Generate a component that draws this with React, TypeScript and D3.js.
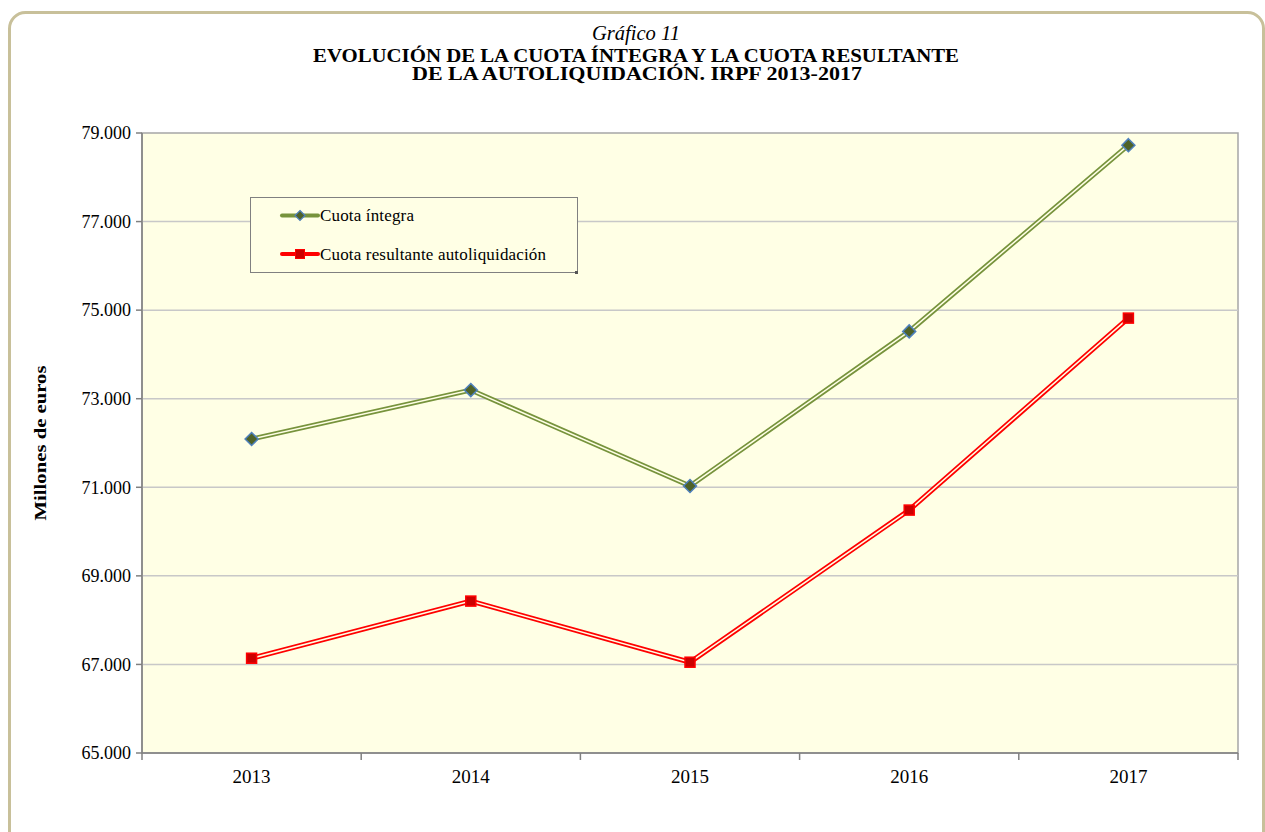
import React from "react";
import * as d3 from "d3";

const years = ["2013", "2014", "2015", "2016", "2017"];
const cuotaIntegra = [72090, 73195, 71030, 74520, 78725];
const cuotaResultante = [67140, 68430, 67050, 70485, 74820];
const yTicks = [65000, 67000, 69000, 71000, 73000, 75000, 77000, 79000];

const W = 1265;
const H = 832;
const M = { left: 142, top: 133, right: 1238, bottom: 753 };
const bg = "#FFFFE5";
const font = "'Liberation Serif', 'Times New Roman', serif";

export default function App() {
  const x = d3.scaleBand<string>().domain(years).range([M.left, M.right]);
  const y = d3.scaleLinear().domain([65000, 79000]).range([M.bottom, M.top]);
  const cx = (d: string) => (x(d) as number) + x.bandwidth() / 2;
  const line = d3
    .line<number>()
    .x((_, i) => cx(years[i]))
    .y((v) => y(v));
  const fmt = (v: number) => d3.format(",")(v).replace(/,/g, ".");
  const boundaries = [...years.map((d) => x(d) as number), M.right];

  const diamond = (px: number, py: number, r: number) =>
    `M${px},${py - r}L${px + r},${py}L${px},${py + r}L${px - r},${py}Z`;

  return (
    <svg
      width={W}
      height={H}
      style={{ position: "absolute", left: 0, top: 0, display: "block" }}
      fontFamily={font}
    >
      <rect x={0} y={0} width={W} height={H} fill="#fff" />
      <rect
        x={9.5}
        y={12.5}
        width={1254}
        height={840}
        rx={16}
        ry={16}
        fill="#fff"
        stroke="#C8C09A"
        strokeWidth={3}
      />
      {/* title */}
      <text
        x={636}
        y={40}
        textAnchor="middle"
        fontStyle="italic"
        fontSize={20}
        textLength={88}
        lengthAdjust="spacingAndGlyphs"
      >
        Gráfico 11
      </text>
      <text
        x={636}
        y={61.5}
        textAnchor="middle"
        fontWeight="bold"
        fontSize={18}
        textLength={646}
        lengthAdjust="spacingAndGlyphs"
      >
        EVOLUCIÓN DE LA CUOTA ÍNTEGRA Y LA CUOTA RESULTANTE
      </text>
      <text
        x={637}
        y={80}
        textAnchor="middle"
        fontWeight="bold"
        fontSize={18}
        textLength={450}
        lengthAdjust="spacingAndGlyphs"
      >
        DE LA AUTOLIQUIDACIÓN. IRPF 2013-2017
      </text>

      {/* plot area */}
      <rect
        x={M.left}
        y={M.top}
        width={M.right - M.left}
        height={M.bottom - M.top}
        fill={bg}
        stroke="#A6A6A6"
        strokeWidth={1.5}
      />
      {yTicks.map((t) => (
        <g key={t}>
          {t !== 65000 && t !== 79000 && (
            <line x1={M.left} x2={M.right} y1={y(t)} y2={y(t)} stroke="#C8C8C8" strokeWidth={1.5} />
          )}
          <line x1={M.left - 6} x2={M.left} y1={y(t)} y2={y(t)} stroke="#808080" strokeWidth={1.5} />
          <text x={131} y={y(t)} dy="0.35em" textAnchor="end" fontSize={18}>
            {fmt(t)}
          </text>
        </g>
      ))}
      <line x1={M.left} x2={M.left} y1={M.top} y2={M.bottom} stroke="#808080" strokeWidth={1.5} />
      <line x1={M.left} x2={M.right} y1={M.bottom} y2={M.bottom} stroke="#808080" strokeWidth={1.5} />
      {boundaries.map((b, i) => (
        <line key={i} x1={b} x2={b} y1={M.bottom} y2={M.bottom + 7} stroke="#808080" strokeWidth={1.5} />
      ))}
      {years.map((d) => (
        <text key={d} x={cx(d)} y={783} textAnchor="middle" fontSize={19}>
          {d}
        </text>
      ))}
      <text
        transform={`translate(46,${(M.top + M.bottom) / 2}) rotate(-90)`}
        textAnchor="middle"
        fontWeight="bold"
        fontSize={17}
        textLength={155}
        lengthAdjust="spacingAndGlyphs"
      >
        Millones de euros
      </text>

      {/* series */}
      <path d={line(cuotaIntegra) || ""} fill="none" stroke="#77933C" strokeWidth={5} />
      <path d={line(cuotaIntegra) || ""} fill="none" stroke={bg} strokeWidth={1.5} />
      <path d={line(cuotaResultante) || ""} fill="none" stroke="#FF0000" strokeWidth={5} />
      <path d={line(cuotaResultante) || ""} fill="none" stroke={bg} strokeWidth={1.5} />
      {cuotaIntegra.map((v, i) => (
        <path
          key={i}
          d={diamond(cx(years[i]), y(v), 6.5)}
          fill="#4F6228"
          stroke="#4F81BD"
          strokeWidth={1.5}
        />
      ))}
      {cuotaResultante.map((v, i) => (
        <rect
          key={i}
          x={cx(years[i]) - 5}
          y={y(v) - 5}
          width={10}
          height={10}
          fill="#CC0000"
          stroke="#FF0000"
          strokeWidth={1.5}
        />
      ))}

      {/* legend */}
      <rect x={250.5} y={197.5} width={327} height={75} fill={bg} stroke="#808080" strokeWidth={1} />
      <rect x={575} y={271} width={3} height={3} fill="#555" />
      <line x1={282} x2={318} y1={215.5} y2={215.5} stroke="#77933C" strokeWidth={4} strokeLinecap="round" />
      <path d={diamond(300, 215.5, 5)} fill="#4F6228" stroke="#4F81BD" strokeWidth={1.2} />
      <text x={320} y={215.5} dy="0.35em" fontSize={17} textLength={94} lengthAdjust="spacing">
        Cuota íntegra
      </text>
      <line x1={282} x2={318} y1={254} y2={254} stroke="#FF0000" strokeWidth={4} strokeLinecap="round" />
      <rect x={295.5} y={249.5} width={9} height={9} fill="#CC0000" stroke="#FF0000" strokeWidth={1} />
      <text
        x={320}
        y={254}
        dy="0.35em"
        fontSize={17}
        textLength={226}
        lengthAdjust="spacing"
      >
        Cuota resultante autoliquidación
      </text>
    </svg>
  );
}
